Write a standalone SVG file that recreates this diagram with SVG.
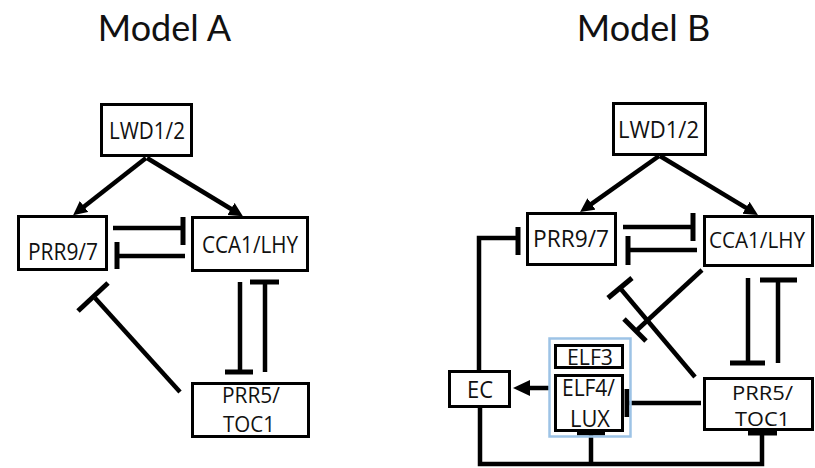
<svg xmlns="http://www.w3.org/2000/svg" width="815" height="468" viewBox="0 0 815 468">
<style>
  .title { font-family: Lato, "Open Sans", sans-serif; font-size: 36px; fill: #111; text-anchor: middle; }
  .box { fill: #fff; stroke: #000; stroke-width: 3; }
  .grp { fill: none; stroke: #9dc3e6; stroke-width: 2.5; }
  .lbl { font-family: "Open Sans", "Liberation Sans", sans-serif; font-size: 24px; fill: #111; text-anchor: middle; }
  .md { font-size: 22.5px; }
  .sm { font-size: 22px; }
  .xs { font-size: 20px; }
  .ln { fill: none; stroke: #000; stroke-width: 4.5; }
  .bar { fill: none; stroke: #000; stroke-width: 5; }
</style>
<defs>
  <marker id="arr" markerUnits="userSpaceOnUse" markerWidth="16" markerHeight="16" refX="6" refY="7" orient="auto">
    <path d="M0,0 L14,7 L0,14 z" fill="#000"/>
  </marker>
  <marker id="arrL" markerUnits="userSpaceOnUse" markerWidth="20" markerHeight="20" refX="7" refY="8" orient="auto">
    <path d="M0,0 L17,8 L0,16 z" fill="#000"/>
  </marker>
</defs>

<text class="title" x="164.5" y="41">Model A</text>
<text class="title" x="643.5" y="41">Model B</text>

<g id="connectors">
  <!-- Model A -->
  <line class="ln" x1="146" y1="158" x2="79.4" y2="210.2" marker-end="url(#arr)"/>
  <line class="ln" x1="147" y1="158" x2="236.1" y2="212" marker-end="url(#arr)"/>
  <line class="ln" x1="113" y1="228" x2="181" y2="228"/>
  <line class="bar" x1="183" y1="217" x2="183" y2="245"/>
  <line class="ln" x1="185" y1="256" x2="119" y2="256"/>
  <line class="bar" x1="117" y1="242" x2="117" y2="269"/>
  <line class="ln" x1="240" y1="282" x2="240" y2="370"/>
  <line class="bar" x1="225" y1="372" x2="253" y2="372"/>
  <line class="ln" x1="265" y1="372" x2="265" y2="284"/>
  <line class="bar" x1="250" y1="282" x2="279" y2="282"/>
  <line class="ln" x1="180" y1="392" x2="95" y2="298"/>
  <line class="bar" x1="78" y1="311" x2="108" y2="283"/>

  <!-- Model B -->
  <line class="ln" x1="659" y1="156" x2="586.6" y2="207.4" marker-end="url(#arr)"/>
  <line class="ln" x1="660" y1="156" x2="751.1" y2="210.9" marker-end="url(#arr)"/>
  <line class="ln" x1="623" y1="227" x2="691" y2="227"/>
  <line class="bar" x1="693" y1="213" x2="693" y2="241"/>
  <line class="ln" x1="697" y1="250" x2="630" y2="250"/>
  <line class="bar" x1="628" y1="236" x2="628" y2="265"/>
  <polyline class="ln" points="479,370 479,238 516,238"/>
  <line class="bar" x1="518" y1="227" x2="518" y2="255"/>
  <line class="ln" x1="549" y1="388" x2="523" y2="388" marker-end="url(#arrL)"/>
  <line class="ln" x1="701" y1="403" x2="629" y2="403"/>
  <line class="bar" x1="627" y1="389" x2="627" y2="417"/>
  <line class="ln" x1="748" y1="278" x2="748" y2="361"/>
  <line class="bar" x1="730" y1="363" x2="765" y2="363"/>
  <line class="ln" x1="778" y1="363" x2="778" y2="282"/>
  <line class="bar" x1="760" y1="280" x2="797" y2="280"/>
  <polyline class="ln" points="480,408 480,464 762,464 762,435"/>
  <line class="bar" x1="748" y1="433" x2="777" y2="433"/>
  <line class="ln" x1="591" y1="464" x2="591" y2="435"/>
  <line class="bar" x1="577" y1="433" x2="605" y2="433"/>
  <line class="ln" x1="695" y1="377" x2="620" y2="288"/>
  <line class="bar" x1="608" y1="298" x2="632" y2="278"/>
  <line class="ln" x1="702" y1="270" x2="636" y2="331"/>
  <line class="bar" x1="624" y1="319" x2="646" y2="341"/>
</g>

<!-- Model A nodes -->
<g id="A-LWD">
  <rect class="box" x="101.5" y="104.5" width="90" height="51"/>
  <text class="lbl" x="147" y="139" textLength="76" lengthAdjust="spacingAndGlyphs">LWD1/2</text>
</g>
<g id="A-PRR97">
  <rect class="box" x="18.5" y="216.5" width="88" height="53"/>
  <text class="lbl" x="63" y="260" textLength="70" lengthAdjust="spacingAndGlyphs">PRR9/7</text>
</g>
<g id="A-CCA1">
  <rect class="box" x="192.5" y="217.5" width="115" height="53"/>
  <text class="lbl" x="250" y="253" textLength="96" lengthAdjust="spacingAndGlyphs">CCA1/LHY</text>
</g>
<g id="A-PRR5">
  <rect class="box" x="192.5" y="383.5" width="116" height="53"/>
  <text class="lbl sm" x="251" y="403" textLength="58" lengthAdjust="spacingAndGlyphs">PRR5/</text>
  <text class="lbl sm" x="249" y="432" textLength="52" lengthAdjust="spacingAndGlyphs">TOC1</text>
</g>

<!-- Model B nodes -->
<g id="B-LWD">
  <rect class="box" x="613.5" y="103.5" width="92" height="51"/>
  <text class="lbl" x="658.5" y="138" textLength="81" lengthAdjust="spacingAndGlyphs">LWD1/2</text>
</g>
<g id="B-PRR97">
  <rect class="box" x="527.5" y="213.5" width="88" height="51"/>
  <text class="lbl" x="571" y="247" textLength="76" lengthAdjust="spacingAndGlyphs">PRR9/7</text>
</g>
<g id="B-CCA1">
  <rect class="box" x="704.5" y="216.5" width="108" height="49"/>
  <text class="lbl md" x="757" y="248" textLength="96" lengthAdjust="spacingAndGlyphs">CCA1/LHY</text>
</g>
<g id="B-PRR5">
  <rect class="box" x="704.5" y="378.5" width="108" height="51"/>
  <text class="lbl xs" x="762.5" y="400" textLength="61" lengthAdjust="spacingAndGlyphs">PRR5/</text>
  <text class="lbl xs" x="762.5" y="426" textLength="55" lengthAdjust="spacingAndGlyphs">TOC1</text>
</g>
<g id="B-EC">
  <rect class="box" x="449.5" y="371.5" width="60" height="35"/>
  <text class="lbl" x="480" y="398" textLength="26" lengthAdjust="spacingAndGlyphs">EC</text>
</g>
<g id="B-ELFcomplex">
  <rect class="grp" x="549.5" y="338.5" width="81" height="98"/>
  <g id="B-ELF3">
    <rect class="box" x="555.5" y="345.5" width="67" height="22"/>
    <text class="lbl sm" x="590" y="365" textLength="46" lengthAdjust="spacingAndGlyphs">ELF3</text>
  </g>
  <g id="B-ELF4LUX">
    <rect class="box" x="555.5" y="375.5" width="67" height="55"/>
    <text class="lbl" x="588.5" y="396" textLength="53" lengthAdjust="spacingAndGlyphs">ELF4/</text>
    <text class="lbl" x="590" y="427" textLength="40" lengthAdjust="spacingAndGlyphs">LUX</text>
  </g>
</g>
</svg>
